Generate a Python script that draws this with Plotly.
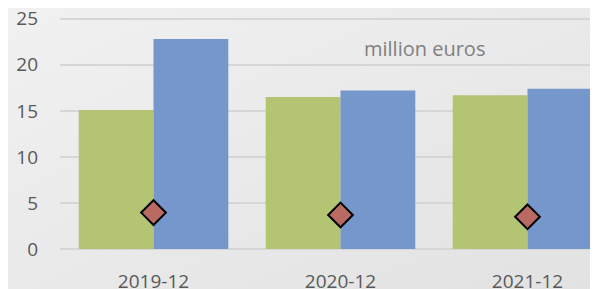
import base64
import plotly.graph_objects as go

categories = ["2019-12", "2020-12", "2021-12"]
green_vals = [15.1, 16.5, 16.7]
blue_vals = [22.8, 17.2, 17.4]
diamond_vals = [3.95, 3.7, 3.5]
y_ticks = [0, 5, 10, 15, 20, 25]
unit_label = "million euros"

FONT = "Open Sans, Noto Sans, sans-serif"

W, H = 590, 281
ML, MT, MB = 52, 8, 40
PW, PH = W - ML, H - MT - MB

svg = ('<svg xmlns="http://www.w3.org/2000/svg" width="590" height="281" preserveAspectRatio="none">'
       '<defs><linearGradient id="g" x1="0" y1="0" x2="1" y2="1">'
       '<stop offset="0" stop-color="#f1f1f1"/><stop offset="1" stop-color="#e2e2e2"/>'
       '</linearGradient></defs><rect width="590" height="281" fill="url(#g)"/></svg>')
bg_src = "data:image/svg+xml;base64," + base64.b64encode(svg.encode()).decode()

fig = go.Figure()
fig.add_trace(go.Bar(x=categories, y=green_vals, marker=dict(color="#b3c472", line=dict(width=0)), showlegend=False))
fig.add_trace(go.Bar(x=categories, y=blue_vals, marker=dict(color="#7597cb", line=dict(width=0)), showlegend=False))
fig.add_trace(go.Scatter(x=categories, y=diamond_vals, mode="markers",
                         marker=dict(symbol="diamond", size=19, color="#b96a63",
                                     line=dict(color="#000000", width=2)),
                         showlegend=False))

fig.update_layout(
    width=W, height=H,
    margin=dict(l=ML, r=0, t=MT, b=MB, autoexpand=False),
    paper_bgcolor="#e9e9e9",
    plot_bgcolor="rgba(0,0,0,0)",
    barmode="group", bargap=0.2, bargroupgap=0,
    font=dict(family=FONT, size=19, color="#595959"),
    xaxis=dict(type="category", range=[-0.5, 2.377], showgrid=False, automargin=False,
               showline=False, ticks="", ticklabelstandoff=19, ticklabeloverflow="allow",
               tickfont=dict(size=19, color="#595959")),
    yaxis=dict(range=[0, 25.3], tickvals=y_ticks, showgrid=True, gridcolor="#d6d6d6",
               gridwidth=1.5, zeroline=True, zerolinecolor="#d6d6d6", zerolinewidth=1.5,
               showline=False, ticks="", ticklabelstandoff=21, automargin=False,
               ticklabeloverflow="allow",
               tickfont=dict(size=19, color="#595959")),
    annotations=[dict(text=unit_label, xref="paper", yref="paper", x=0.677, y=(241 - 40) / PH,
                      showarrow=False, xanchor="center", yanchor="middle",
                      font=dict(size=20, color="#808080", family=FONT))],
    images=[dict(source=bg_src, xref="paper", yref="paper",
                 x=-ML / PW, y=1 + MT / PH, sizex=W / PW, sizey=H / PH,
                 xanchor="left", yanchor="top", sizing="stretch", layer="below")],
)

fig.write_html("out.html")
